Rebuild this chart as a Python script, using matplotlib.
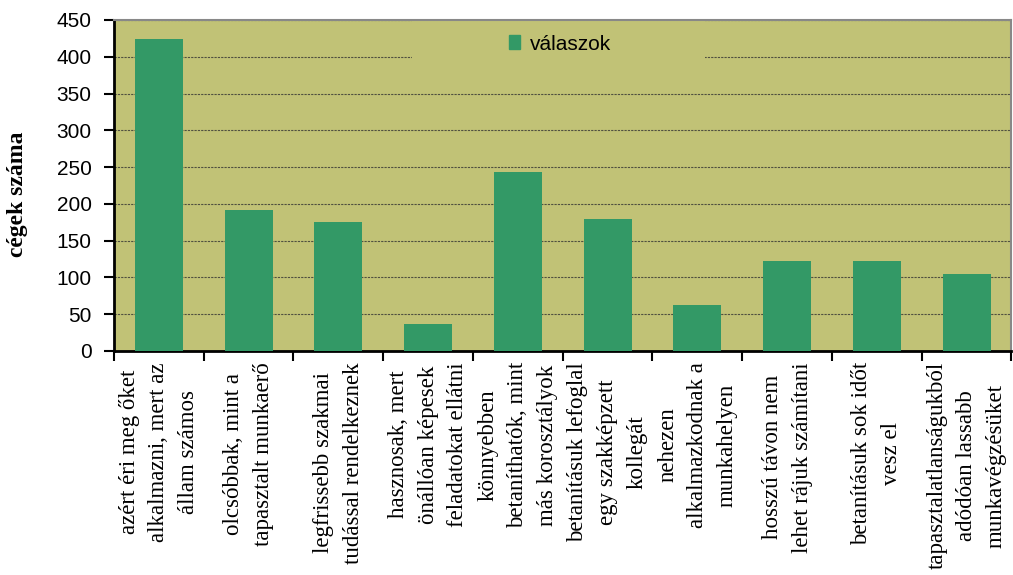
import numpy as np
import matplotlib.pyplot as plt
from matplotlib.patches import Patch, Rectangle

cimkek = [
    "azért éri meg őket\nalkalmazni, mert az\nállam számos",
    "olcsóbbak, mint a\ntapasztalt munkaerő",
    "legfrissebb szakmai\ntudással rendelkeznek",
    "hasznosak, mert\nönállóan képesek\nfeladatokat ellátni",
    "könnyebben\nbetaníthatók, mint\nmás korosztályok",
    "betanításuk lefoglal\negy szakképzett\nkollegát",
    "nehezen\nalkalmazkodnak a\nmunkahelyen",
    "hosszú távon nem\nlehet rájuk számítani",
    "betanításuk sok időt\nvesz el",
    "tapasztalatlanságukból\nadódóan lassabb\nmunkavégzésüket",
]
valaszok = [424, 191, 175, 37, 243, 180, 62, 122, 122, 105]
y_ticks = [0, 50, 100, 150, 200, 250, 300, 350, 400, 450]

hatter = "#c1c276"
zold = "#339966"

fig = plt.figure(figsize=(10.13, 5.75), dpi=100)
ax = fig.add_axes([0.1125, 0.3896, 0.886, 0.5757])
ax.set_facecolor(hatter)

x = np.arange(len(valaszok))
ax.bar(x, valaszok, width=0.535, color=zold, zorder=3, label="válaszok")

ax.set_xlim(-0.5, len(valaszok) - 0.5)
ax.set_ylim(0, 450)
ax.set_yticks(y_ticks)
ax.set_yticklabels([str(v) for v in y_ticks], fontsize=15, family="Liberation Sans")
ax.yaxis.grid(True, linestyle=(0, (2, 1)), color="#505040", linewidth=0.8, zorder=1)

ax.set_xticks(np.arange(len(valaszok) + 1) - 0.5, minor=False)
ax.set_xticklabels([""] * (len(valaszok) + 1))
ax.set_xticks(x, minor=True)
ax.set_xticklabels(cimkek, minor=True, rotation=90, fontsize=16.5,
                   family="Liberation Serif", ha="center", va="top",
                   multialignment="center", linespacing=1.55)
ax.tick_params(axis="x", which="minor", length=0, pad=8)
ax.tick_params(axis="both", which="major", length=7, width=1.5, direction="out")
ax.tick_params(axis="y", pad=9)

for s in ["left", "bottom"]:
    ax.spines[s].set_linewidth(2)
    ax.spines[s].set_color("black")
for s in ["top", "right"]:
    ax.spines[s].set_linewidth(1.5)
    ax.spines[s].set_color("#888888")

ax.set_ylabel("cégek száma", fontsize=17, fontweight="bold", family="Liberation Serif",
              va="center")
ax.yaxis.set_label_coords(-0.108, 0.474)

# a jelmagyarazat doboza eltakarja a racsvonalat
ax.add_patch(Rectangle((0.332, 0.855), 0.327, 0.145, transform=ax.transAxes,
                       facecolor=hatter, edgecolor="none", zorder=2))

leg = ax.legend(handles=[Patch(color=zold, label="válaszok")], loc="center",
                bbox_to_anchor=(0.497, 0.927), frameon=False,
                prop={"family": "Liberation Sans", "size": 15},
                handlelength=0.55, handleheight=0.65, handletextpad=0.45,
                borderpad=0, borderaxespad=0)
leg.set_zorder(5)

fig.savefig("out.png", dpi=100)
